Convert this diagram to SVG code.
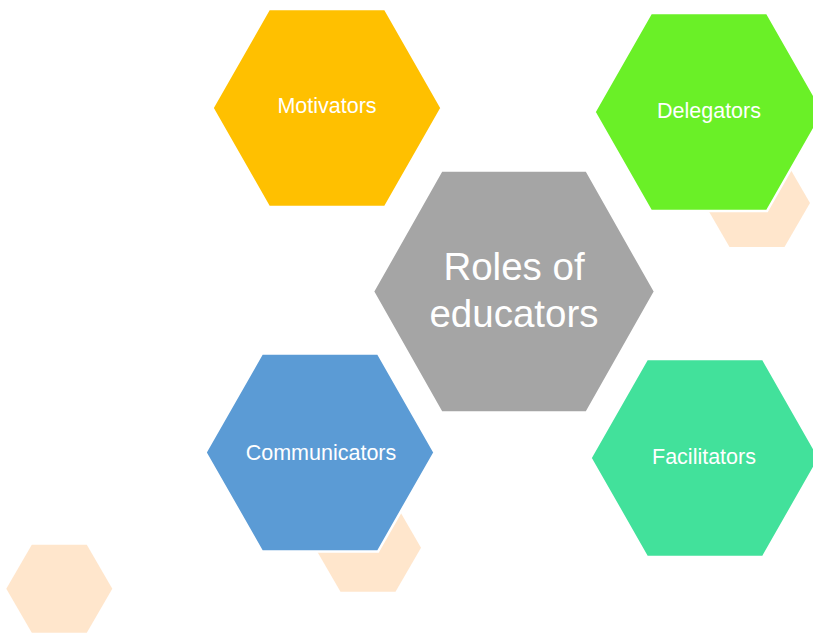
<svg xmlns="http://www.w3.org/2000/svg" width="813" height="633" viewBox="0 0 813 633">
<style>
.deco{fill:#FFE6CC;stroke:none}
.hex{stroke:#ffffff;stroke-width:2.5}
.lbl{font-family:"Liberation Sans",Arial,sans-serif;font-size:21.5px;fill:#ffffff;text-anchor:middle}
.big{font-family:"Liberation Sans",Arial,sans-serif;font-size:38.5px;fill:#ffffff;text-anchor:middle}
</style>
<rect width="813" height="633" fill="#ffffff"/>
<g id="decorations">
<polygon class="deco" points="6.3,588.7 31.8,544.7 86.8,544.7 112.3,588.7 86.8,632.7 31.8,632.7"/>
<polygon class="deco" points="315,547.7 340.5,503.7 395.5,503.7 421,547.7 395.5,591.7 340.5,591.7"/>
<polygon class="deco" points="704,203 729.5,159 784.5,159 810,203 784.5,247 729.5,247"/>
</g>
<g id="connectors"/>
<g id="center">
<polygon class="hex" fill="#A5A5A5" points="373,291.5 441.5,170.5 586.5,170.5 655,291.5 586.5,412.5 441.5,412.5"/>
<text class="big" x="514" y="280">Roles of</text>
<text class="big" x="514" y="327">educators</text>
</g>
<g id="motivators">
<polygon class="hex" fill="#FFC000" points="212.5,108 269,9 385,9 441.5,108 385,207 269,207"/>
<text class="lbl" x="327" y="113">Motivators</text>
</g>
<g id="delegators">
<polygon class="hex" fill="#6AF027" points="594.5,112 651,13 767,13 823.5,112 767,211 651,211"/>
<text class="lbl" x="709" y="118">Delegators</text>
</g>
<g id="communicators">
<polygon class="hex" fill="#5B9BD5" points="205.5,452.5 262,353.5 378,353.5 434.5,452.5 378,551.5 262,551.5"/>
<text class="lbl" x="321" y="460">Communicators</text>
</g>
<g id="facilitators">
<polygon class="hex" fill="#42E19B" points="590.5,458 647,359 763,359 819.5,458 763,557 647,557"/>
<text class="lbl" x="704" y="464">Facilitators</text>
</g>
</svg>
